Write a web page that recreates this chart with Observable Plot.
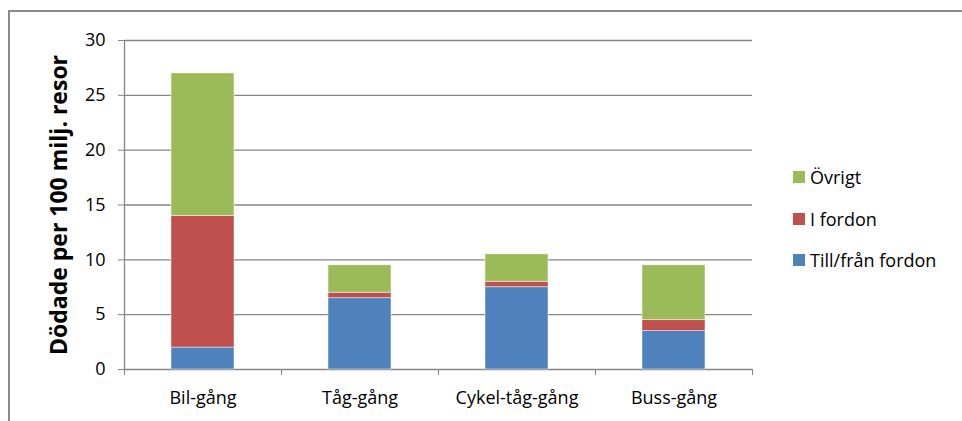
<!DOCTYPE html>
<html>
<head>
<meta charset="utf-8">
<script src="https://cdn.jsdelivr.net/npm/d3@7"></script>
<script src="https://cdn.jsdelivr.net/npm/@observablehq/plot@0.6"></script>
<style>
  html, body { margin: 0; padding: 0; background: #fff; }
  #wrap { position: relative; width: 962px; height: 421px; overflow: hidden; font-family: "Open Sans", sans-serif; }
  #frame { position: absolute; left: 8px; top: 10px; width: 970px; height: 420px; border-left: 2px solid #8a8a8a; border-top: 2px solid #8a8a8a; box-sizing: border-box; }
  #chart { position: absolute; left: 0; top: 0; }
  #chart svg { font-family: "Open Sans", sans-serif; }
  g[aria-label="y-axis label"] text { font-weight: bold; font-size: 23px; }
  #legend { position: absolute; left: 793px; top: 0; }
  .item { position: absolute; left: 0; display: flex; align-items: center; white-space: nowrap; font-size: 18px; color: #000; height: 24px; }
  .sw { width: 12px; height: 12px; margin-right: 5px; }
</style>
</head>
<body>
<div id="wrap">
  <div id="frame"></div>
  <div id="chart"></div>
  <div id="legend"></div>
</div>
<script>
// Data
const categories = ["Bil-gång", "Tåg-gång", "Cykel-tåg-gång", "Buss-gång"];
const series = ["Till/från fordon", "I fordon", "Övrigt"];
const tillFranFordon = [2, 6.5, 7.5, 3.5];
const iFordon = [12, 0.5, 0.5, 1];
const ovrigt = [13, 2.5, 2.5, 5];
const yTicks = [0, 5, 10, 15, 20, 25, 30];
const colors = ["#4F81BD", "#C0504D", "#9BBB59"];
const yLabel = "Dödade per 100 milj. resor";

const valuesBySeries = [tillFranFordon, iFordon, ovrigt];
const rows = [];
categories.forEach((c, i) => {
  series.forEach((s, j) => {
    rows.push({cat: c, i, series: s, value: valuesBySeries[j][i]});
  });
});

const chart = Plot.plot({
  width: 962,
  height: 421,
  marginLeft: 124,
  marginRight: 210,
  marginTop: 40,
  marginBottom: 52,
  style: {fontSize: "18px", color: "#000", background: "transparent"},
  x: {domain: [0, categories.length]},
  y: {domain: [0, 30]},
  color: {domain: series, range: colors},
  marks: [
    Plot.gridY(yTicks, {stroke: "#868686", strokeOpacity: 1, strokeWidth: 1.3}),
    Plot.rectY(rows, Plot.stackY({
      x1: d => d.i,
      x2: d => d.i + 1,
      y: "value",
      fill: "series",
      order: series,
      insetLeft: 47,
      insetRight: 47,
      stroke: "#ffffff",
      strokeOpacity: 0.6,
      strokeWidth: 0.8
    })),
    Plot.ruleX([0], {stroke: "#868686", strokeWidth: 1.3}),
    Plot.axisY({ticks: yTicks, tickSize: 6, tickPadding: 13, stroke: "#868686", strokeOpacity: 1,
      label: yLabel, labelAnchor: "center", labelArrow: "none", labelOffset: 74, fontSize: 18}),
    Plot.axisX({ticks: d3.range(categories.length + 1), tickSize: 6, tickFormat: () => "",
      stroke: "#868686", strokeOpacity: 1, label: null}),
    Plot.axisX({ticks: categories.map((c, i) => i + 0.5), tickSize: 0, tickPadding: 22,
      tickFormat: d => categories[Math.floor(d)], label: null, fontSize: 18})
  ]
});
document.getElementById("chart").appendChild(chart);

// Legend (top to bottom: Övrigt, I fordon, Till/från fordon)
const legend = document.getElementById("legend");
const legendOrder = [2, 1, 0];
const legendY = [177, 219, 260];
legendOrder.forEach((j, k) => {
  const item = document.createElement("div");
  item.className = "item";
  item.style.top = (legendY[k] - 12) + "px";
  const sw = document.createElement("div");
  sw.className = "sw";
  sw.style.background = colors[j];
  const t = document.createElement("span");
  t.textContent = series[j];
  item.appendChild(sw);
  item.appendChild(t);
  legend.appendChild(item);
});
</script>
</body>
</html>
